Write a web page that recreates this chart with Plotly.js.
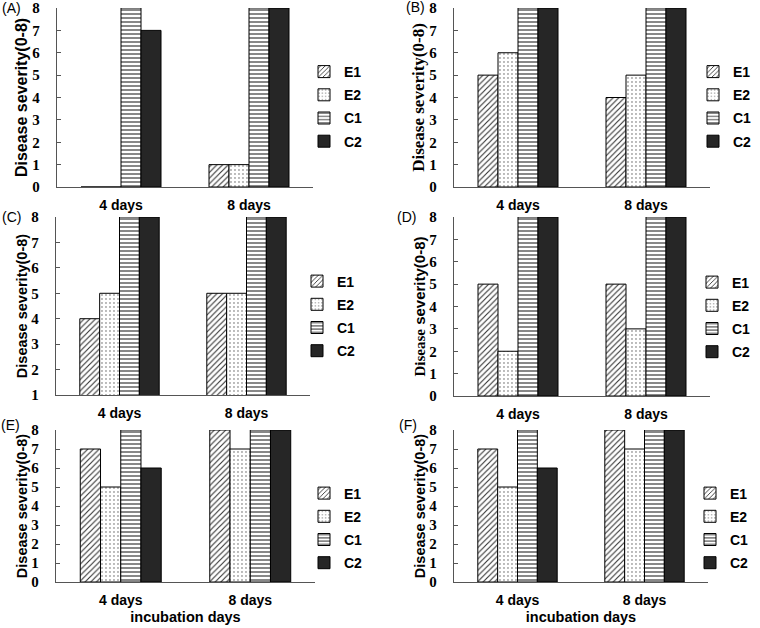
<!DOCTYPE html>
<html>
<head>
<meta charset="utf-8">
<script src="https://cdn.plot.ly/plotly-3.0.1.min.js"></script>
<style>html,body{margin:0;padding:0;background:#fff;} #chart{width:760px;height:628px;}</style>
</head>
<body>
<div id="chart"></div>
<script>
// ---- data ----
const categories = ['4 days', '8 days'];
const seriesNames = ['E1', 'E2', 'C1', 'C2'];
const panelLabels = ['(A)', '(B)', '(C)', '(D)', '(E)', '(F)'];
// values per panel: [E1, E2, C1, C2], each [4 days, 8 days]
const panelA = [[0, 1], [0, 1], [8, 8], [7, 8]];
const panelB = [[5, 4], [6, 5], [8, 8], [8, 8]];
const panelC = [[4, 5], [5, 5], [8, 8], [8, 8]];
const panelD = [[5, 5], [2, 3], [8, 8], [8, 8]];
const panelE = [[7, 8], [5, 7], [8, 8], [6, 8]];
const panelF = [[7, 8], [5, 7], [8, 8], [6, 8]];
const yMins = [0, 0, 1, 0, 0, 0];
const yTitle = 'Disease severity(0-8)';
const xTitle = 'incubation days';

// ---- styling ----
const W = 760, H = 628;
const panels = [panelA, panelB, panelC, panelD, panelE, panelF];
// plot areas in pixels [x0, x1, yTop, yBottom]
const boxes = [
  [57, 313, 8, 187],
  [454, 710, 8, 187],
  [56, 310, 217, 395],
  [454, 710, 217, 396],
  [56, 315, 430, 582],
  [454, 708, 430, 582]
];
const patterns = [
  {shape: '/', size: 4, solidity: 0.28, fgcolor: '#333', bgcolor: '#fff'},
  {shape: '.', size: 4, solidity: 0.1, fgcolor: '#555', bgcolor: '#fff'},
  {shape: '-', size: 4, solidity: 0.35, fgcolor: '#555', bgcolor: '#fff'},
  {shape: '', fgcolor: '#262626'}
];
const fills = ['#fff', '#fff', '#fff', '#262626'];
const legendText = [344, 733, 337, 732, 344, 730];
const legendMid = [106.5, 106.5, 316, 317, 528, 528];
const titleFonts = [
  {family: 'Liberation Sans', size: 16, weight: 700, color: '#000'},
  {family: 'Liberation Serif', size: 17, weight: 700, color: '#000'},
  {family: 'Liberation Sans', size: 14.5, weight: 700, color: '#000'},
  {family: 'Liberation Sans', size: 15, weight: 700, color: '#000'},
  {family: 'Liberation Sans', size: 14.5, weight: 700, color: '#000'},
  {family: 'Liberation Sans', size: 14.5, weight: 700, color: '#000'}
];
const titleTexts = [
  yTitle, yTitle, yTitle,
  '<span style="font-family:Liberation Serif">Disease</span> severity(0-8)',
  yTitle, yTitle
];
const labelPos = [[11, 8], [415, 7], [11, 217], [406, 217], [10, 425], [408, 425]];

const data = [];
const layout = {
  width: W, height: H,
  margin: {l: 0, r: 0, t: 0, b: 0},
  paper_bgcolor: '#fff', plot_bgcolor: '#fff',
  font: {family: 'Liberation Sans', color: '#000'},
  barmode: 'group', bargap: 0.375, bargroupgap: 0,
  annotations: []
};

panels.forEach((vals, p) => {
  const n = p + 1;
  const sfx = n === 1 ? '' : String(n);
  const legendId = 'legend' + sfx;
  seriesNames.forEach((name, s) => {
    data.push({
      type: 'bar', x: categories, y: vals[s], name: name,
      xaxis: 'x' + sfx, yaxis: 'y' + sfx,
      legend: legendId, legendgroup: 'g' + n + name,
      marker: {color: fills[s], pattern: patterns[s], line: {color: '#000', width: 1}},
      hoverinfo: 'x+y+name'
    });
  });
  const b = boxes[p];
  const xDom = [b[0] / W, b[1] / W];
  const yDom = [1 - b[3] / H, 1 - b[2] / H];
  const lastRow = p >= 4;
  layout['xaxis' + sfx] = {
    domain: xDom, anchor: 'y' + sfx, range: [-0.5, 1.5],
    showline: true, linecolor: '#555', linewidth: 1.3, ticks: '', showgrid: false,
    zeroline: false, fixedrange: true, ticklabelstandoff: 5,
    tickfont: {family: 'Liberation Sans', size: 14, weight: 700, color: '#000'},
    title: lastRow ? {text: xTitle, font: {family: 'Liberation Sans', size: 14.5, weight: 700, color: '#000'}, standoff: 4} : {text: ''}
  };
  const ymin = yMins[p];
  const tv = [];
  for (let v = ymin; v <= 8; v++) tv.push(v);
  layout['yaxis' + sfx] = {
    domain: yDom, anchor: 'x' + sfx, range: [ymin, 8],
    tickvals: tv, ticks: 'inside', ticklen: 4, tickcolor: '#555', tickwidth: 1,
    showline: true, linecolor: '#555', linewidth: 1.3, showgrid: false, zeroline: false,
    fixedrange: true, ticklabelstandoff: 13,
    tickfont: {family: 'Liberation Serif', size: 15, weight: 700, color: '#000'},
    title: {text: titleTexts[p], font: titleFonts[p], standoff: 0}
  };
  layout[legendId] = {
    x: (legendText[p] - 40) / W, xanchor: 'left',
    y: 1 - legendMid[p] / H, yanchor: 'middle',
    bgcolor: 'rgba(0,0,0,0)', borderwidth: 0, tracegroupgap: 2,
    font: {family: 'Liberation Sans', size: 14, weight: 700, color: '#000'}
  };
  const lp = labelPos[p];
  layout.annotations.push({
    text: panelLabels[p], xref: 'paper', yref: 'paper',
    x: lp[0] / W, y: 1 - lp[1] / H, xanchor: 'center', yanchor: 'middle',
    showarrow: false, font: {family: 'Liberation Sans', size: 14, color: '#000'}
  });
});

Plotly.newPlot('chart', data, layout, {displayModeBar: false});
</script>
</body>
</html>
